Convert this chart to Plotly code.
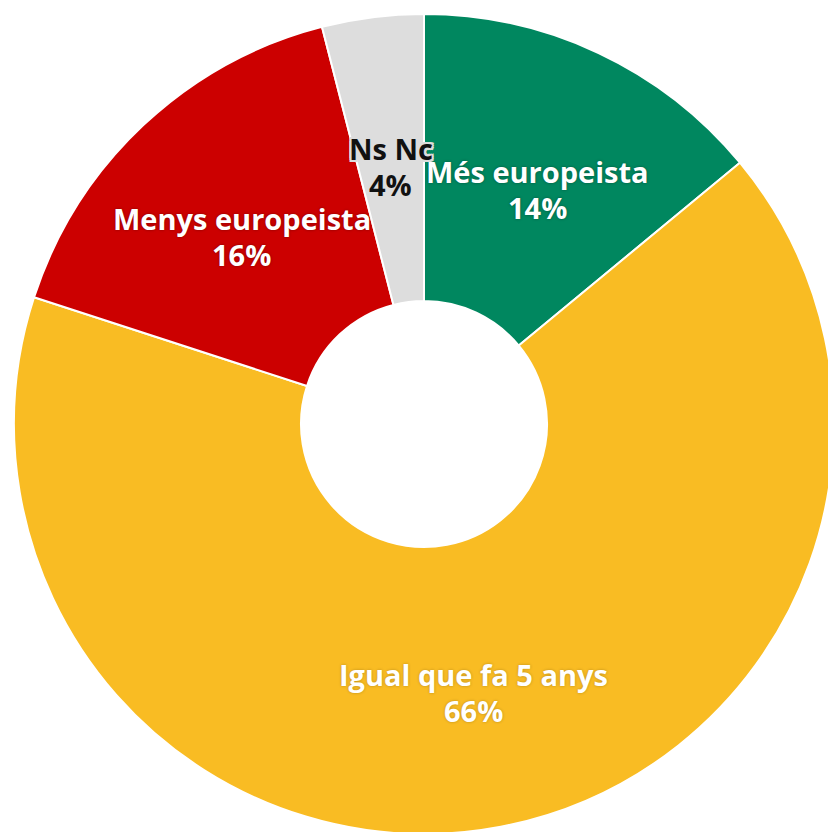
import math
import plotly.graph_objects as go

labels = ["Més europeista", "Igual que fa 5 anys", "Menys europeista", "Ns Nc"]
values = [14, 66, 16, 4]
pct_text = ["14%", "66%", "16%", "4%"]
colors = ["#00875F", "#F9BC23", "#CC0000", "#DDDDDD"]
text_colors = ["#FFFFFF", "#FFFFFF", "#FFFFFF", "#111111"]
halo = "#DDDDDD"
text_shadows = [
    "0px 0px 3px rgba(0,0,0,0.35)",
    "0px 0px 3px rgba(0,0,0,0.25)",
    "0px 0px 3px rgba(0,0,0,0.35)",
    ", ".join(f"{dx}px {dy}px 0 {halo}" for dx in (-2, 0, 2) for dy in (-2, 0, 2) if dx or dy),
]

W, H = 838, 838
ML, MT, MR, MB = 14, 14, 4, 4
HOLE = 0.3
FONT = "Open Sans"
FS = 29

fig = go.Figure(go.Pie(
    labels=labels,
    values=values,
    sort=False,
    direction="clockwise",
    rotation=0,
    hole=HOLE,
    marker=dict(colors=colors, line=dict(color="#FFFFFF", width=2)),
    textinfo="none",
    hoverinfo="skip",
    showlegend=False,
))

# pie geometry in pixels relative to the plot area (top-left origin)
pw = W - ML - MR
ph = H - MT - MB
R = min(pw, ph) / 2
cx = pw / 2
cy = ph / 2
r_mid = R * (1 + HOLE) / 2

total = sum(values)
cum = 0
annotations = []
for lab, v, pt, tc, sh in zip(labels, values, pct_text, text_colors, text_shadows):
    theta = 2 * math.pi * (cum + v / 2) / total
    cum += v
    px = cx + r_mid * math.sin(theta)
    py = cy - r_mid * math.cos(theta)
    for txt, dy in ((lab, -11), (pt, 25)):
        annotations.append(dict(
            x=px / pw, y=1 - (py + dy) / ph, xref="paper", yref="paper",
            text=txt, showarrow=False,
            xanchor="center", yanchor="middle",
            font=dict(family=FONT, size=FS, color=tc, weight="bold", shadow=sh),
        ))

fig.update_layout(
    width=W, height=H,
    margin=dict(l=ML, r=MR, t=MT, b=MB),
    paper_bgcolor="white", plot_bgcolor="white",
    annotations=annotations,
)

fig.write_html(
    "out.html",
    config={"displayModeBar": False},
    post_script="document.body.style.margin='0px';document.body.style.overflow='hidden';",
)
